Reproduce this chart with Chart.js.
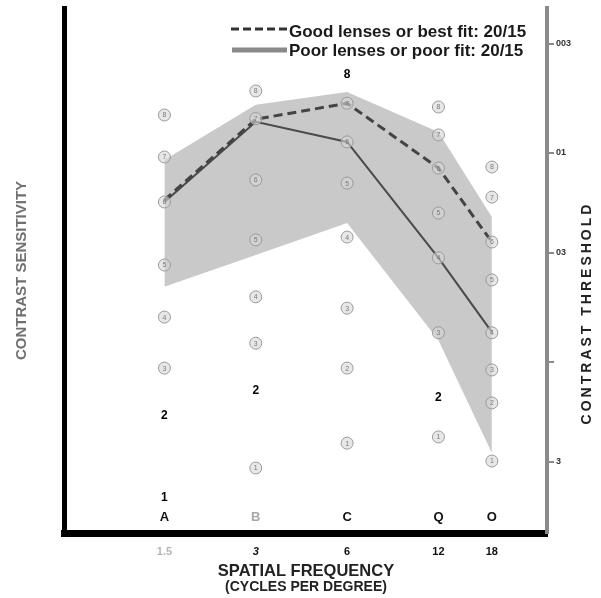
<!DOCTYPE html>
<html>
<head>
<meta charset="utf-8">
<script src="https://cdn.jsdelivr.net/npm/chart.js@4/dist/chart.umd.min.js"></script>
<style>
  html, body { margin: 0; padding: 0; background: #fff; }
  #wrap { width: 601px; height: 598px; }
</style>
</head>
<body>
<div id="wrap"><canvas id="csf" width="601" height="598"></canvas></div>
<script>
// spatial frequency columns (cycles per degree)
var freqs = [1.5, 3, 6, 12, 18];
var freqLabels = ['1.5', '3', '6', '12', '18'];

// contrast sensitivity
var goodFit = [59.6, 145, 173, 84.7, 37.5];
var poorFit = [58.3, 141, 113, 31.5, 13.9];
var normalHigh = [92.6, 170, 196, 126, 49.4];
var normalLow = [22.9, 32.5, 46.2, 12.7, 3.67];

// test patches, grade 1..8 for each column
var patches15 = [2.26, 5.57, 9.35, 16.4, 29.1, 58.3, 95.7, 152];
var patches3 = [3.11, 7.35, 12.3, 20.5, 38.4, 74.3, 146, 198];
var patches6 = [4.09, 9.35, 18.1, 39.6, 71.8, 113, 173, 239];
var patches12 = [4.38, 6.80, 13.8, 31.5, 51.6, 84.7, 122, 166];
var patches18 = [3.36, 6.37, 9.16, 13.8, 24.7, 37.5, 61.5, 85.7];
var markedGrades = [[1, 2], [2], [8], [2], []];
var rowLetters = ['A', 'B', 'C', 'Q', 'O'];
var rowLetterLevel = 1.8;

// right axis: contrast threshold
var thresholdTicks = [0.003, 0.01, 0.03, 0.1, 0.3];
var thresholdLabels = ['003', '01', '03', '', '3'];

var sensMin = 1.52, sensMax = 494;

Chart.defaults.font.family = "'Liberation Sans', Arial, sans-serif";
var FAM = "'Liberation Sans', Arial, sans-serif";

var patchRows = [patches15, patches3, patches6, patches12, patches18];
var patchPoints = [];
patchRows.forEach(function (row, c) {
  row.forEach(function (v, g) {
    patchPoints.push({x: freqs[c], y: v, grade: g + 1, marked: markedGrades[c].indexOf(g + 1) >= 0});
  });
});

function pts(arr) {
  return freqs.map(function (f, i) { return {x: f, y: arr[i]}; });
}

const patchLabels = {
  id: 'patchLabels',
  afterDatasetsDraw(chart) {
    const ctx = chart.ctx;
    const meta = chart.getDatasetMeta(4);
    ctx.save();
    ctx.textAlign = 'center';
    ctx.textBaseline = 'middle';
    meta.data.forEach(function (el, i) {
      const p = patchPoints[i];
      if (p.marked) {
        ctx.fillStyle = '#000';
        ctx.font = 'bold 12px ' + FAM;
      } else {
        ctx.fillStyle = '#7a7a7a';
        ctx.font = '7px ' + FAM;
      }
      ctx.fillText(String(p.grade), el.x, el.y + 0.5);
    });
    const xs = chart.scales.x, ys = chart.scales.y;
    const yl = ys.getPixelForValue(rowLetterLevel);
    ctx.font = 'bold 13px ' + FAM;
    rowLetters.forEach(function (t, i) {
      ctx.fillStyle = i === 1 ? '#a8a8a8' : '#111';
      ctx.fillText(t, xs.getPixelForValue(freqs[i]), yl);
    });
    ctx.restore();
  }
};

const extraText = {
  id: 'extraText',
  afterDraw(chart) {
    const ctx = chart.ctx;
    const ds = chart.data.datasets;
    ctx.save();
    // legend
    ctx.strokeStyle = '#333';
    ctx.lineWidth = 3;
    ctx.setLineDash([8, 4]);
    ctx.beginPath(); ctx.moveTo(231, 29); ctx.lineTo(288, 29); ctx.stroke();
    ctx.setLineDash([]);
    ctx.strokeStyle = '#8a8a8a';
    ctx.lineWidth = 5;
    ctx.beginPath(); ctx.moveTo(232, 50); ctx.lineTo(287, 50); ctx.stroke();
    ctx.fillStyle = '#1a1a1a';
    ctx.font = 'bold 17px ' + FAM;
    ctx.textBaseline = 'middle';
    ctx.textAlign = 'left';
    ctx.fillText(ds[2].label, 289, 32);
    ctx.fillText(ds[3].label, 289, 51);
    // bottom title
    ctx.textAlign = 'center';
    ctx.fillStyle = '#222';
    ctx.font = 'bold 16.5px ' + FAM;
    ctx.fillText('SPATIAL FREQUENCY', 306, 571);
    ctx.font = 'bold 14px ' + FAM;
    ctx.fillText('(CYCLES PER DEGREE)', 306, 587);
    // right title
    ctx.translate(587, 313);
    ctx.rotate(-Math.PI / 2);
    ctx.font = 'bold 14px ' + FAM;
    ctx.letterSpacing = '3px';
    ctx.fillText('CONTRAST THRESHOLD', 0, 0);
    ctx.restore();
  }
};

new Chart(document.getElementById('csf'), {
  type: 'line',
  data: {
    datasets: [
      {
        label: 'low',
        data: pts(normalLow),
        borderWidth: 0,
        pointRadius: 0,
        fill: false,
        order: 10
      },
      {
        label: 'high',
        data: pts(normalHigh),
        borderWidth: 0,
        pointRadius: 0,
        backgroundColor: '#c9c9c9',
        fill: '-1',
        order: 9
      },
      {
        label: 'Good lenses or best fit: 20/15',
        data: pts(goodFit),
        borderColor: '#444',
        borderWidth: 3,
        borderDash: [9, 5],
        pointRadius: 0,
        fill: false,
        order: 1
      },
      {
        label: 'Poor lenses or poor fit: 20/15',
        data: pts(poorFit),
        borderColor: '#4a4a4a',
        borderWidth: 2,
        pointRadius: 0,
        fill: false,
        order: 2
      },
      {
        label: 'patches',
        type: 'scatter',
        data: patchPoints,
        pointStyle: 'circle',
        pointRadius: function (c) { return c.raw && c.raw.marked ? 0 : 6; },
        pointHoverRadius: 0,
        borderColor: '#9a9a9a',
        borderWidth: 1,
        backgroundColor: 'rgba(215,215,215,0.6)',
        order: 0
      }
    ]
  },
  options: {
    responsive: false,
    devicePixelRatio: 1,
    animation: false,
    events: [],
    layout: { padding: { top: 8, left: 0, right: 0, bottom: 0 } },
    plugins: {
      legend: { display: false },
      tooltip: { enabled: false }
    },
    scales: {
      x: {
        type: 'logarithmic',
        position: 'bottom',
        min: 0.702,
        max: 27.35,
        afterBuildTicks: function (s) { s.ticks = freqs.map(function (v) { return {value: v}; }); },
        afterFit: function (s) { s.height = 65; },
        grid: { display: false, drawTicks: false },
        border: { color: '#000', width: 7 },
        ticks: {
          autoSkip: false,
          maxRotation: 0,
          padding: 12,
          callback: function (v, i) { return freqLabels[i]; },
          color: function (c) { return c.index === 0 ? '#b5b5b5' : '#111'; },
          font: function (c) { return {size: 11, weight: 'bold', style: c.index === 1 ? 'italic' : 'normal'}; }
        }
      },
      y: {
        type: 'logarithmic',
        position: 'left',
        min: sensMin,
        max: sensMax,
        afterFit: function (s) { s.width = 64; },
        grid: { display: false, drawTicks: false },
        border: { color: '#000', width: 5 },
        ticks: { display: false },
        title: {
          display: true,
          text: 'CONTRAST SENSITIVITY',
          color: '#707070',
          font: { size: 15, weight: 'bold' },
          padding: { top: 13, bottom: 0 }
        }
      },
      y2: {
        type: 'logarithmic',
        position: 'right',
        reverse: true,
        min: 1 / sensMax,
        max: 1 / sensMin,
        afterBuildTicks: function (s) { s.ticks = thresholdTicks.map(function (v) { return {value: v}; }); },
        afterFit: function (s) { s.width = 54; },
        grid: { drawOnChartArea: false, drawTicks: true, tickLength: 7, color: '#8a8a8a', lineWidth: 2 },
        border: { color: '#8a8a8a', width: 4 },
        ticks: {
          autoSkip: false,
          padding: 2,
          color: '#333',
          font: { size: 9, weight: 'bold' },
          callback: function (v, i) { return thresholdLabels[i]; }
        }
      }
    }
  },
  plugins: [patchLabels, extraText]
});
</script>
</body>
</html>
